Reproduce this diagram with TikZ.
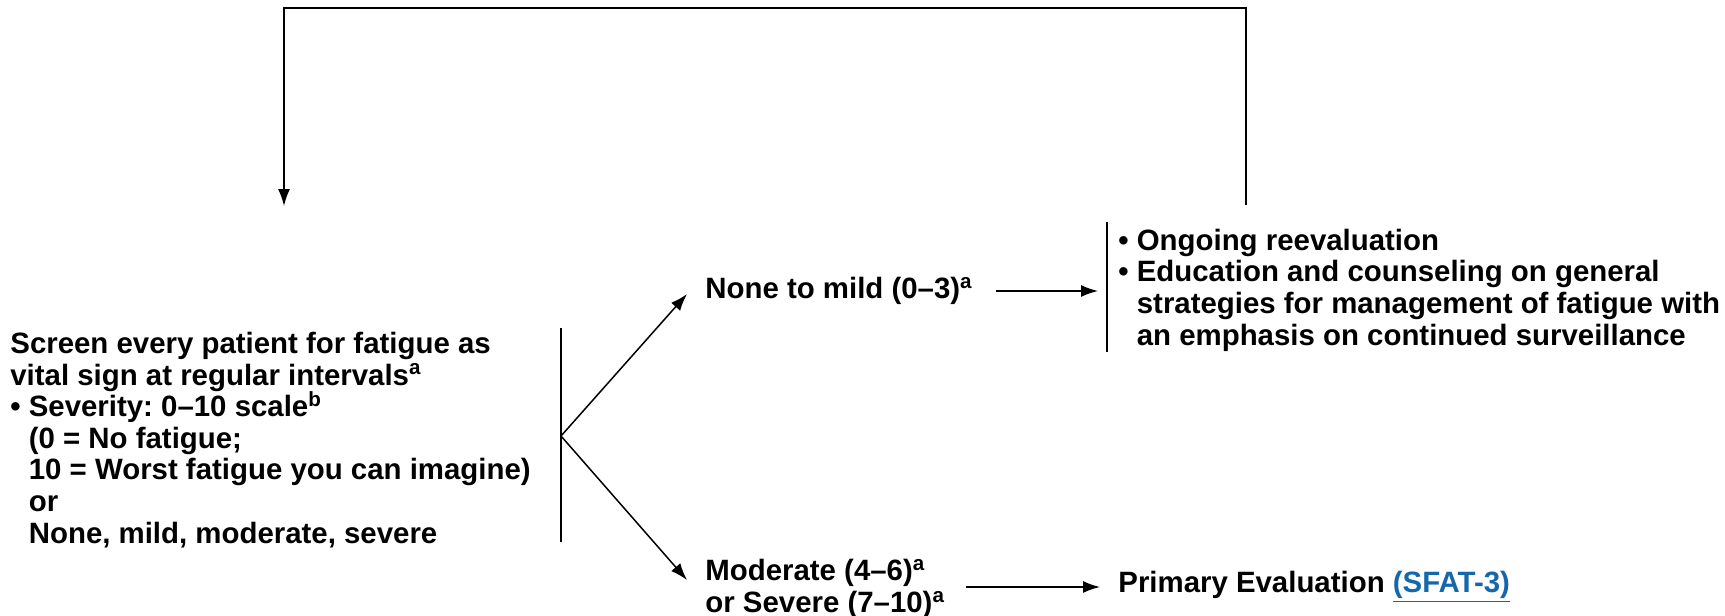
\documentclass[tikz,border=0pt]{standalone}
\usepackage{fontspec}
\setmainfont{Liberation Sans}
\usetikzlibrary{arrows.meta,positioning,calc}
\definecolor{linkblue}{RGB}{20,104,170}
\frenchspacing

\begin{document}
\begin{tikzpicture}[
    x=0.5pt, y=-0.5pt,
    txt/.style={align=left, anchor=west, inner sep=0pt, font=\bfseries\fontsize{14.7}{15.8}\selectfont},
    arrow/.style={-{Latex[length=8.5pt,width=6pt]}, line width=0.75pt},
    bar/.style={line width=0.75pt}
]
\useasboundingbox (0,0) rectangle (1725,616);

% Screening
\node[txt] (screen) at (10,440) {Screen every patient for fatigue as\\
vital sign at regular intervals\textsuperscript{a}\\
• Severity: 0–10 scale\textsuperscript{b}\\
\hphantom{•\ }(0 = No fatigue;\\
\hphantom{•\ }10 = Worst fatigue you can imagine)\\
\hphantom{•\ }or\\
\hphantom{•\ }None, mild, moderate, severe};
\coordinate (fork) at (561,436);
\draw[bar] (561,328) -- (561,542);

% Outcomes
\node[txt] (nonemild) at (705,291) {None to mild (0–3)\textsuperscript{a}};
\node[txt] (moderate) at (705,589) {Moderate (4–6)\textsuperscript{a}\\or Severe (7–10)\textsuperscript{a}};

% Management
\node[txt] (ongoing) at (1118,290) {• Ongoing reevaluation\\
• Education and counseling on general\\
\hphantom{•\ }strategies for management of fatigue with\\
\hphantom{•\ }an emphasis on continued surveillance};
\draw[bar] (1107,222) -- (1107,352);
\node[txt] (primary) at (1118,587) {Primary Evaluation \textcolor{linkblue}{\underline{(SFAT-3)}}};

% Loop back
\coordinate (loopstart) at (1246,205);
\coordinate (loopend) at (284,206);

% Arrows
\draw[arrow] (fork) -- ($(nonemild.west)+(-18,3)$);
\draw[arrow] (fork) -- ($(moderate.west)+(-18,-9)$);
\draw[arrow] (996,291) -- (1098,291);
\draw[arrow] (966,587) -- (1100,587);
\draw[arrow] (loopstart) |- (284,8) -- (loopend);

\end{tikzpicture}
\end{document}
